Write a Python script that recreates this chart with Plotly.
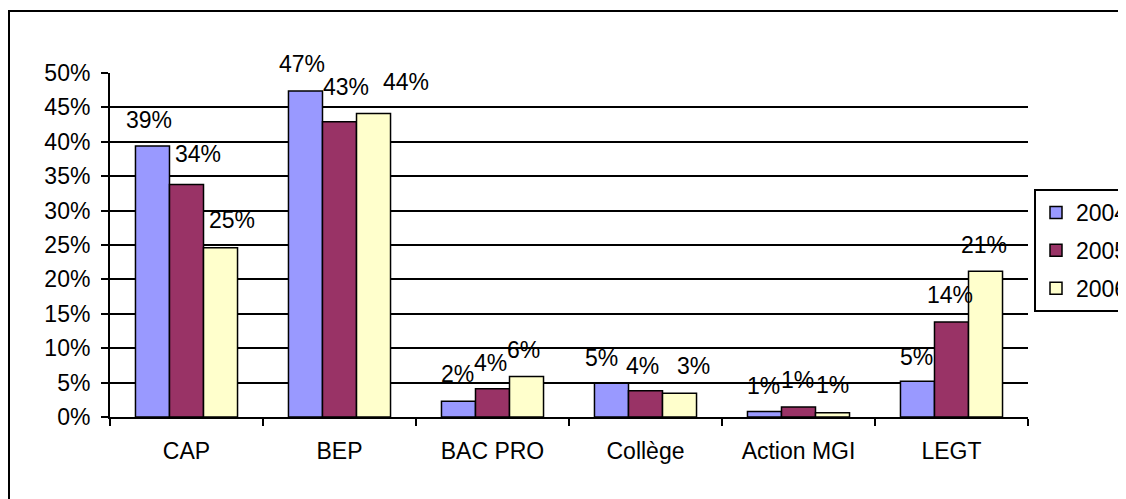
import plotly.graph_objects as go

categories = ["CAP", "BEP", "BAC PRO", "Collège", "Action MGI", "LEGT"]
years = ["2004", "2005", "2006"]
values_2004 = [0.394, 0.474, 0.023, 0.049, 0.008, 0.052]
values_2005 = [0.338, 0.429, 0.041, 0.038, 0.0145, 0.138]
values_2006 = [0.246, 0.441, 0.059, 0.0345, 0.006, 0.212]
y_ticks = [0, 0.05, 0.10, 0.15, 0.20, 0.25, 0.30, 0.35, 0.40, 0.45, 0.50]

series = [values_2004, values_2005, values_2006]
colors = ["#9999FF", "#993366", "#FFFFCC"]

# label pixel offsets (dx, dy) per series, per category, to mimic original placement
label_dx = [
    [-3, -3, -1, -10, -1, -1],
    [11, 6, -2, -3, -1, -2],
    [11, 32, -3, 14, 0, -2],
]
label_dy = [
    [26, 27, 27, 25, 26, 24],
    [30, 35, 26, 25, 27, 27],
    [28, 32, 26, 27, 28, 26],
]

FONT = "Arial, 'Liberation Sans', sans-serif"
FS = 23

fig = go.Figure()
for s, (yr, vals, col) in enumerate(zip(years, series, colors)):
    fig.add_trace(go.Bar(
        x=categories, y=vals, name=yr, legendgroup=yr,
        marker=dict(color=col, line=dict(color="black", width=1.5)),
    ))

# the page body has an 8px margin, so layout positions are shifted by -8
OFF = 8
W, H = 1126, 499
L, T = 110 - OFF, 73 - OFF
R = W - (1028 - OFF)
B = H - (417 - OFF)
pw, ph = W - L - R, H - T - B

bar_frac = (1 - 0.333) / 3
annotations = []
for s, vals in enumerate(series):
    for i, v in enumerate(vals):
        annotations.append(dict(
            x=i + (s - 1) * bar_frac, y=v, xref="x", yref="y",
            text=f"{round(v * 100):.0f}%", showarrow=False,
            xanchor="center", yanchor="middle",
            xshift=label_dx[s][i], yshift=label_dy[s][i],
            font=dict(family=FONT, size=FS, color="black"),
        ))

fig.update_layout(
    width=W, height=H,
    margin=dict(l=L, r=R, t=T, b=B, autoexpand=False),
    paper_bgcolor="white", plot_bgcolor="white",
    barmode="group", bargap=0.333, bargroupgap=0,
    font=dict(family=FONT, size=FS, color="black"),
    showlegend=True,
    legend=dict(
        x=(1034 - OFF - L) / pw, y=(H - B - (189 - OFF)) / ph,
        xanchor="left", yanchor="top",
        bordercolor="black", borderwidth=2, bgcolor="white",
        font=dict(family=FONT, size=FS, color="black"),
        traceorder="grouped", tracegroupgap=5,
    ),
    annotations=annotations,
    shapes=[dict(
        type="rect", xref="paper", yref="paper",
        x0=(9 - OFF - L) / pw, x1=(W + 10 - L) / pw,
        y0=(H - B - (H + 10)) / ph, y1=(H - B - (11 - OFF)) / ph,
        line=dict(color="black", width=2), fillcolor="rgba(0,0,0,0)", layer="below",
    )],
)
fig.update_xaxes(
    type="category", showline=True, linecolor="black", linewidth=2,
    ticks="outside", tickson="boundaries", ticklen=7, tickwidth=2, tickcolor="black",
    ticklabelstandoff=12, showgrid=False,
    tickfont=dict(family=FONT, size=FS, color="black"),
)
fig.update_yaxes(
    range=[0, 0.5], tickvals=y_ticks, tickformat=".0%",
    showline=True, linecolor="black", linewidth=2,
    ticks="outside", ticklen=7, tickwidth=2, tickcolor="black",
    showgrid=True, gridcolor="black", gridwidth=2, zeroline=False,
    ticklabelstandoff=6,
    tickfont=dict(family=FONT, size=FS, color="black"),
)

fig.write_html("out.html")
